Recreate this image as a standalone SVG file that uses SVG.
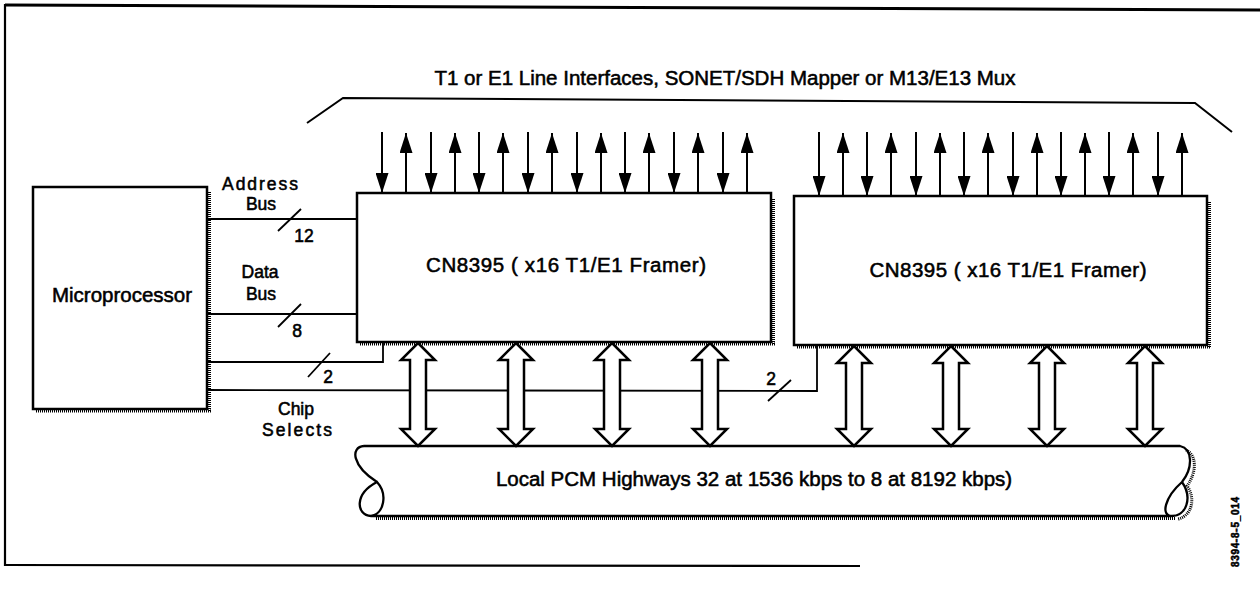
<svg xmlns="http://www.w3.org/2000/svg" width="1260" height="600" viewBox="0 0 1260 600">
<style>
  .t { font-family: "Liberation Sans", Arial, sans-serif; fill: #000; stroke: #000; stroke-width: 0.55; }
  .big { font-size: 20.5px; }
  .lbl { font-size: 17.5px; }
  .box { fill: #fff; stroke: #000; stroke-width: 2.5; }
  .sh { fill: none; stroke: #000; stroke-width: 3; stroke-dasharray: 1 1; }
  .ln { fill: none; stroke: #000; stroke-width: 1.8; }
  .ar { fill: none; stroke: #000; stroke-width: 2; marker-end: url(#ah); }
  .dbl { fill: #fff; stroke: #000; stroke-width: 2.5; stroke-linejoin: miter; }
  .frame { fill: none; stroke: #000; }
</style>
<defs>
  <marker id="ah" markerUnits="userSpaceOnUse" markerWidth="20" markerHeight="13" viewBox="0 0 20 13" refX="20" refY="6.5" orient="auto">
    <path d="M0,0 L20,6.5 L0,13 Z" fill="#000"/>
  </marker>
</defs>
<rect x="0" y="0" width="1260" height="600" fill="#fff"/>

<g id="frame">
  <line class="frame" x1="5" y1="5" x2="1260" y2="10" stroke-width="3"/>
  <line class="frame" x1="5" y1="4" x2="5" y2="566" stroke-width="2.2"/>
  <line class="frame" x1="4" y1="565" x2="860" y2="566" stroke-width="2.2"/>
</g>

<g id="line-interfaces">
  <path d="M307,123 L343,98 L1195,103 L1232,132" fill="none" stroke="#000" stroke-width="2"/>
  <text class="t big" x="725" y="85" text-anchor="middle">T1 or E1 Line Interfaces, SONET/SDH Mapper or M13/E13 Mux</text>
</g>

<g id="microprocessor">
  <line class="sh" x1="209.5" y1="192" x2="209.5" y2="412"/>
  <line class="sh" x1="36" y1="411" x2="211" y2="411"/>
  <rect class="box" x="33" y="187" width="174" height="222"/>
  <text class="t big" x="122" y="302" text-anchor="middle">Microprocessor</text>
</g>

<g id="framer1">
  <line class="sh" x1="773.5" y1="199" x2="773.5" y2="345"/>
  <line class="sh" x1="360" y1="344" x2="775" y2="344"/>
  <rect class="box" x="357" y="193" width="414" height="149"/>
  <text class="t big" x="566" y="272" text-anchor="middle" textLength="280" lengthAdjust="spacing">CN8395 ( x16 T1/E1 Framer)</text>
</g>

<g id="framer2">
  <line class="sh" x1="1209.5" y1="202" x2="1209.5" y2="348"/>
  <line class="sh" x1="797" y1="347" x2="1211" y2="347"/>
  <rect class="box" x="794" y="196" width="413" height="149"/>
  <text class="t big" x="1008" y="277" text-anchor="middle" textLength="277" lengthAdjust="spacing">CN8395 ( x16 T1/E1 Framer)</text>
</g>

<g id="pcm-highway">
  <line class="sh" x1="376" y1="518.5" x2="1176" y2="518.5"/>
  <path class="sh" d="M1186,450 C1197,455 1197,472 1187,486 C1196,498 1192,516 1178,519"/>
  <path d="M364,446 L1180,446 C1193,449 1193,468 1182,482 C1165,497 1160,516 1172,516 C1186,516 1193,498 1182,482 M1172,516 L371,516 C384,514 388,494 377,482 C354,494 356,515 371,516 M377,482 C352,466 350,447 364,446" fill="none" stroke="#000" stroke-width="2.3"/>
  <text class="t big" x="754" y="486" text-anchor="middle">Local PCM Highways 32 at 1536 kbps to 8 at 8192 kbps)</text>
</g>

<g id="connectors">
  <line class="ln" x1="207" y1="219" x2="357" y2="219"/>
  <line class="ln" x1="278" y1="231" x2="301" y2="209"/>
  <line class="ln" x1="207" y1="314" x2="357" y2="314"/>
  <line class="ln" x1="278" y1="327" x2="301" y2="304"/>
  <polyline class="ln" points="207,362 383,362 383,342"/>
  <line class="ln" x1="308" y1="377" x2="330" y2="353"/>
  <polyline class="ln" points="207,390 817,391 817,345"/>
  <line class="ln" x1="768" y1="401" x2="791" y2="380"/>

  <line class="ar" x1="382" y1="132" x2="382" y2="193"/>
  <line class="ar" x1="406" y1="193" x2="406" y2="133"/>
  <line class="ar" x1="431" y1="132" x2="431" y2="193"/>
  <line class="ar" x1="455" y1="193" x2="455" y2="133"/>
  <line class="ar" x1="479" y1="132" x2="479" y2="193"/>
  <line class="ar" x1="503" y1="193" x2="503" y2="133"/>
  <line class="ar" x1="528" y1="132" x2="528" y2="193"/>
  <line class="ar" x1="552" y1="193" x2="552" y2="133"/>
  <line class="ar" x1="577" y1="132" x2="577" y2="193"/>
  <line class="ar" x1="601" y1="193" x2="601" y2="133"/>
  <line class="ar" x1="625" y1="132" x2="625" y2="193"/>
  <line class="ar" x1="649" y1="193" x2="649" y2="133"/>
  <line class="ar" x1="674" y1="132" x2="674" y2="193"/>
  <line class="ar" x1="698" y1="193" x2="698" y2="133"/>
  <line class="ar" x1="723" y1="132" x2="723" y2="193"/>
  <line class="ar" x1="747" y1="193" x2="747" y2="133"/>

  <line class="ar" x1="819" y1="132" x2="819" y2="196"/>
  <line class="ar" x1="843" y1="196" x2="843" y2="133"/>
  <line class="ar" x1="867" y1="132" x2="867" y2="196"/>
  <line class="ar" x1="891" y1="196" x2="891" y2="133"/>
  <line class="ar" x1="916" y1="132" x2="916" y2="196"/>
  <line class="ar" x1="940" y1="196" x2="940" y2="133"/>
  <line class="ar" x1="964" y1="132" x2="964" y2="196"/>
  <line class="ar" x1="988" y1="196" x2="988" y2="133"/>
  <line class="ar" x1="1013" y1="132" x2="1013" y2="196"/>
  <line class="ar" x1="1037" y1="196" x2="1037" y2="133"/>
  <line class="ar" x1="1061" y1="132" x2="1061" y2="196"/>
  <line class="ar" x1="1085" y1="196" x2="1085" y2="133"/>
  <line class="ar" x1="1109" y1="132" x2="1109" y2="196"/>
  <line class="ar" x1="1133" y1="196" x2="1133" y2="133"/>
  <line class="ar" x1="1158" y1="132" x2="1158" y2="196"/>
  <line class="ar" x1="1182" y1="196" x2="1182" y2="133"/>

  <path class="dbl" d="M418,343 L435,360 L426,360 L426,429 L435,429 L418,446 L401,429 L410,429 L410,360 L401,360 Z"/>
  <path class="dbl" d="M516,343 L533,360 L524,360 L524,429 L533,429 L516,446 L499,429 L508,429 L508,360 L499,360 Z"/>
  <path class="dbl" d="M612,343 L629,360 L620,360 L620,429 L629,429 L612,446 L595,429 L604,429 L604,360 L595,360 Z"/>
  <path class="dbl" d="M710,343 L727,360 L718,360 L718,429 L727,429 L710,446 L693,429 L702,429 L702,360 L693,360 Z"/>
  <path class="dbl" d="M854,346 L871,363 L862,363 L862,429 L871,429 L854,446 L837,429 L846,429 L846,363 L837,363 Z"/>
  <path class="dbl" d="M951,346 L968,363 L959,363 L959,429 L968,429 L951,446 L934,429 L943,429 L943,363 L934,363 Z"/>
  <path class="dbl" d="M1047,346 L1064,363 L1055,363 L1055,429 L1064,429 L1047,446 L1030,429 L1039,429 L1039,363 L1030,363 Z"/>
  <path class="dbl" d="M1145,346 L1162,363 L1153,363 L1153,429 L1162,429 L1145,446 L1128,429 L1137,429 L1137,363 L1128,363 Z"/>
</g>

<g id="labels">
  <text class="t lbl" x="260" y="190" text-anchor="middle" textLength="76" lengthAdjust="spacing">Address</text>
  <text class="t lbl" x="261" y="210" text-anchor="middle">Bus</text>
  <text class="t lbl" x="304" y="242" text-anchor="middle">12</text>
  <text class="t lbl" x="260" y="278" text-anchor="middle">Data</text>
  <text class="t lbl" x="261" y="300" text-anchor="middle">Bus</text>
  <text class="t lbl" x="297" y="337" text-anchor="middle">8</text>
  <text class="t lbl" x="328" y="383" text-anchor="middle">2</text>
  <text class="t lbl" x="771" y="385" text-anchor="middle">2</text>
  <text class="t lbl" x="296" y="415" text-anchor="middle">Chip</text>
  <text class="t lbl" x="297" y="436" text-anchor="middle" textLength="70" lengthAdjust="spacing">Selects</text>
  <text class="t" x="0" y="0" font-size="10" font-weight="bold" stroke-width="0.2" text-anchor="middle" textLength="70" lengthAdjust="spacing" transform="translate(1239,532) rotate(-90)">8394-8-5_014</text>
</g>
</svg>
